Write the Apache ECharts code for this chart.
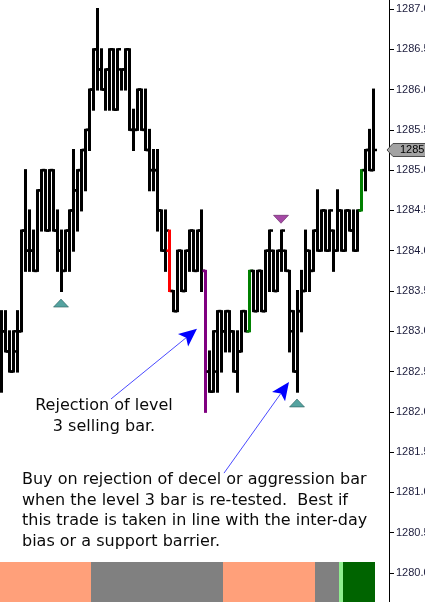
<!DOCTYPE html>
<html>
<head>
<meta charset="utf-8">
<script src="https://cdn.jsdelivr.net/npm/echarts@6/dist/echarts.min.js"></script>
<style>
html,body{margin:0;padding:0;background:#fff;}
#c{width:425px;height:602px;}
</style>
</head>
<body>
<div id="c"></div>
<script>
// ---- data ----
const opens = [1282.75,1283.0,1282.75,1282.5,1282.75,1283.0,1284.25,1284.0,1284.0,1283.75,
1284.75,1285.0,1284.25,1285.0,1284.25,1284.0,1283.75,1284.25,1284.5,1284.75,
1285.0,1285.25,1285.5,1286.0,1286.5,1286.25,1286.0,1286.25,1286.5,1285.75,
1286.25,1286.25,1286.5,1285.5,1285.5,1286.0,1285.5,1285.25,1285.0,1285.0,
1284.5,1284.0,1284.0,1283.5,1283.25,1284.0,1283.5,1284.0,1284.25,1283.75,
1284.25,1283.75,1282.5,1282.25,1282.5,1283.25,1283.0,1283.25,1283.0,1282.5,
1282.75,1283.25,1283.0,1283.75,1283.25,1283.75,1283.25,1284.0,1284.0,1283.5,
1284.0,1284.0,1283.75,1283.25,1282.5,1283.25,1283.5,1284.0,1283.75,1284.25,
1284.0,1284.5,1284.0,1284.25,1284.0,1284.5,1284.0,1284.5,1284.25,1284.0,
1284.5,1285.0,1285.25,1285.0];
const highs = [1283.25,1283.25,1283.0,1283.0,1283.25,1284.25,1285.0,1284.5,1284.25,1284.75,
1285.0,1285.0,1285.0,1285.0,1284.5,1284.25,1284.25,1284.5,1285.25,1285.0,
1285.25,1285.5,1286.0,1286.5,1287.0,1286.5,1286.25,1286.5,1286.5,1286.5,
1286.25,1286.5,1286.5,1285.75,1286.0,1286.0,1286.0,1285.5,1285.25,1285.25,
1284.5,1284.5,1284.25,1283.5,1284.0,1284.0,1284.0,1284.25,1284.25,1284.25,
1284.5,1283.75,1282.75,1283.0,1283.25,1283.25,1283.25,1283.25,1283.0,1283.0,
1283.25,1283.25,1283.75,1283.75,1283.75,1283.75,1284.0,1284.25,1284.0,1284.0,
1284.25,1284.0,1283.75,1283.25,1283.5,1283.75,1284.25,1284.0,1284.25,1284.75,
1284.5,1284.5,1284.5,1284.25,1284.75,1284.5,1284.5,1284.5,1284.5,1284.5,
1285.0,1285.25,1285.5,1286.0];
const lows = [1282.25,1282.75,1282.5,1282.5,1282.5,1283.0,1283.75,1283.75,1283.75,1283.75,
1284.25,1284.25,1284.25,1284.25,1283.75,1283.5,1283.75,1283.75,1284.0,1284.25,
1284.5,1284.75,1285.25,1285.75,1286.0,1286.0,1285.75,1285.75,1285.75,1285.75,
1286.0,1286.0,1285.5,1285.25,1285.5,1285.5,1285.25,1284.75,1284.75,1284.25,
1284.0,1283.75,1283.5,1283.25,1283.25,1283.5,1283.5,1283.75,1283.75,1283.75,
1283.5,1282.0,1282.25,1282.25,1282.25,1282.5,1282.75,1282.75,1282.5,1282.25,
1282.75,1283.0,1283.0,1283.25,1283.25,1283.25,1283.25,1283.5,1283.5,1283.5,
1283.75,1283.75,1282.75,1282.5,1282.25,1283.0,1283.5,1283.5,1283.75,1284.0,
1284.0,1284.0,1284.0,1283.75,1284.0,1284.0,1284.0,1284.25,1284.0,1284.0,
1284.5,1284.75,1285.0,1285.0];
const closes = [1283.0,1282.75,1282.5,1283.0,1283.0,1284.25,1284.0,1284.0,1283.75,1284.75,
1285.0,1284.25,1285.0,1284.25,1284.0,1283.75,1284.25,1284.5,1284.75,1285.0,
1285.25,1285.5,1286.0,1286.5,1286.25,1286.0,1286.25,1286.5,1285.75,1286.5,
1286.25,1286.5,1285.5,1285.5,1286.0,1285.5,1285.25,1285.0,1285.0,1284.5,
1284.0,1284.25,1283.5,1283.25,1284.0,1283.5,1284.0,1284.25,1283.75,1284.25,
1283.75,1282.5,1282.25,1283.0,1283.25,1283.0,1283.25,1283.0,1282.5,1282.75,
1283.25,1283.0,1283.75,1283.25,1283.75,1283.25,1284.0,1284.25,1283.5,1284.0,
1284.25,1283.75,1283.0,1282.5,1283.25,1283.5,1284.0,1283.75,1284.25,1284.0,
1284.5,1284.0,1284.5,1284.0,1284.5,1284.0,1284.5,1284.25,1284.0,1284.5,
1285.0,1285.25,1285.0,1285.25];
const decelBars = [42];          // red
const level3Bars = [51];         // purple
const aggressionBars = [62, 90]; // green
const buySignals = [[15, 1283.35], [74, 1282.11]];
const sellSignals = [[70, 1284.39]];
const biasSegments = [[0,22,'sell'],[23,55,'neutral'],[56,78,'sell'],[79,84,'neutral'],[85,85,'buyWeak'],[86,93,'buy']];
const lastPrice = 1285.25;
const arrows = [[27.5,1282.16,49,1283.03],[55.75,1281.24,72,1282.37]];
const note1 = 'Rejection of level\n3 selling bar.';
const note2 = 'Buy on rejection of decel or aggression bar\nwhen the level 3 bar is re-tested.  Best if\nthis trade is taken in line with the inter-day\nbias or a support barrier.';

// ---- build ----
const barData = opens.map((o, i) => {
  let t = 0;
  if (decelBars.includes(i)) t = 1;
  else if (level3Bars.includes(i)) t = 2;
  else if (aggressionBars.includes(i)) t = 3;
  return [i, o, highs[i], lows[i], closes[i], t];
});
const barColors = ['#000000', '#ff0000', '#800080', '#008000'];
const bandColors = {sell:'#FFA07A', neutral:'#808080', buyWeak:'#90EE90', buy:'#006400'};

const chart = echarts.init(document.getElementById('c'), null, {renderer:'canvas'});
const option = {
  animation: false,
  backgroundColor: '#ffffff',
  grid: [
    {left: 0, width: 389, top: -31.3, height: 644.6, outerBoundsMode:'none', containLabel:false},
    {left: 0, width: 389, top: 562, height: 40, outerBoundsMode:'none', containLabel:false}
  ],
  xAxis: [
    {type:'value', min:-0.25, max:97, show:false, gridIndex:0},
    {type:'value', min:-0.25, max:97, show:false, gridIndex:1}
  ],
  yAxis: [
    {type:'value', gridIndex:0, position:'right', min:1279.5, max:1287.5, interval:0.5,
     axisLine:{show:true, onZero:false, lineStyle:{color:'#000', width:1}},
     axisTick:{show:true, inside:false, length:5, lineStyle:{color:'#000'}},
     splitLine:{show:false},
     axisLabel:{margin:7, color:'#1c1c3c', fontSize:11, fontFamily:'Liberation Sans',
       hideOverlap:false, formatter: v => v.toFixed(1)}},
    {type:'value', gridIndex:1, min:0, max:1, show:false}
  ],
  series: [
    {
      type:'custom', xAxisIndex:0, yAxisIndex:0, clip:false,
      data: barData,
      renderItem: function(params, api){
        const i = api.value(0);
        const pO = api.coord([i, api.value(1)]);
        const pH = api.coord([i, api.value(2)]);
        const pL = api.coord([i, api.value(3)]);
        const pC = api.coord([i, api.value(4)]);
        const col = barColors[api.value(5)];
        const x = Math.round(pH[0]) + 0.5;
        return {type:'group', children:[
          {type:'line', shape:{x1:x, y1:pH[1]-1, x2:x, y2:pL[1]+1}, style:{stroke:col, lineWidth:3}},
          {type:'line', shape:{x1:x-3, y1:pO[1], x2:x, y2:pO[1]}, style:{stroke:col, lineWidth:2.5}},
          {type:'line', shape:{x1:x, y1:pC[1], x2:x+3.5, y2:pC[1]}, style:{stroke:col, lineWidth:2.5}}
        ]};
      }
    },
    {
      type:'scatter', xAxisIndex:0, yAxisIndex:0, data: buySignals,
      symbol:'triangle', symbolSize:[15,8],
      itemStyle:{color:'#2a8c88', borderColor:'#1b4f4d', borderWidth:0.6}
    },
    {
      type:'scatter', xAxisIndex:0, yAxisIndex:0, data: sellSignals,
      symbol:'triangle', symbolSize:[15,8], symbolRotate:180,
      itemStyle:{color:'#8e1b8e', borderColor:'#4a0a4a', borderWidth:0.6}
    },
    {
      type:'custom', xAxisIndex:0, yAxisIndex:0, clip:false,
      data: arrows,
      renderItem: function(params, api){
        const p1 = api.coord([api.value(0), api.value(1)]);
        const p2 = api.coord([api.value(2), api.value(3)]);
        const dx = p2[0]-p1[0], dy = p2[1]-p1[1];
        const len = Math.sqrt(dx*dx+dy*dy);
        const ux = dx/len, uy = dy/len, nx = -uy, ny = ux;
        const hl = 18, hw = 8, notch = 4;
        const bx = p2[0]-ux*hl, by = p2[1]-uy*hl;
        const mx = p2[0]-ux*(hl-notch), my = p2[1]-uy*(hl-notch);
        return {type:'group', children:[
          {type:'line', shape:{x1:p1[0], y1:p1[1], x2:mx, y2:my}, style:{stroke:'#4a4aff', lineWidth:1}},
          {type:'polygon', shape:{points:[[p2[0],p2[1]],[bx+nx*hw,by+ny*hw],[mx,my],[bx-nx*hw,by-ny*hw]]},
           style:{fill:'#0000ff'}}
        ]};
      }
    },
    {
      type:'custom', xAxisIndex:1, yAxisIndex:1, clip:true,
      data: biasSegments.map(s => [s[0], s[1]]),
      renderItem: function(params, api){
        const s = biasSegments[params.dataIndex];
        const a = api.coord([s[0]-0.5, 1]);
        const b = api.coord([s[1]+0.5, 0]);
        return {type:'rect', shape:{x:a[0], y:a[1], width:b[0]-a[0], height:b[1]-a[1]},
          style:{fill: bandColors[s[2]]}};
      }
    }
  ],
  graphic: [
    {id:'note1', type:'text', x:104, y:395, style:{text:note1, fill:'#0a0a0a', font:'16px "DejaVu Sans"', align:'center', verticalAlign:'top', lineHeight:21}},
    {id:'note2', type:'text', x:22, y:470, style:{text:note2, fill:'#0a0a0a', font:'16px "DejaVu Sans"', align:'left', verticalAlign:'top', lineHeight:20.5}}
  ]
};
chart.setOption(option);

// last price tag on the axis
const ty = chart.convertToPixel({yAxisIndex:0}, lastPrice);
const ax = chart.convertToPixel({xAxisIndex:0}, 97);
chart.setOption({graphic: [
  {id:'tag', type:'polygon', shape:{points:[[ax-2,ty],[ax+4,ty-6.5],[426,ty-6.5],[426,ty+6.5],[ax+4,ty+6.5]]},
   style:{fill:'#a3a3a3', stroke:'#4a4a4a', lineWidth:1}, z:10},
  {id:'tagText', type:'text', x:ax+11, y:ty, style:{text:lastPrice.toFixed(2), fill:'#000', font:'11px "Liberation Sans"', verticalAlign:'middle'}, z:11}
]});
</script>
</body>
</html>
